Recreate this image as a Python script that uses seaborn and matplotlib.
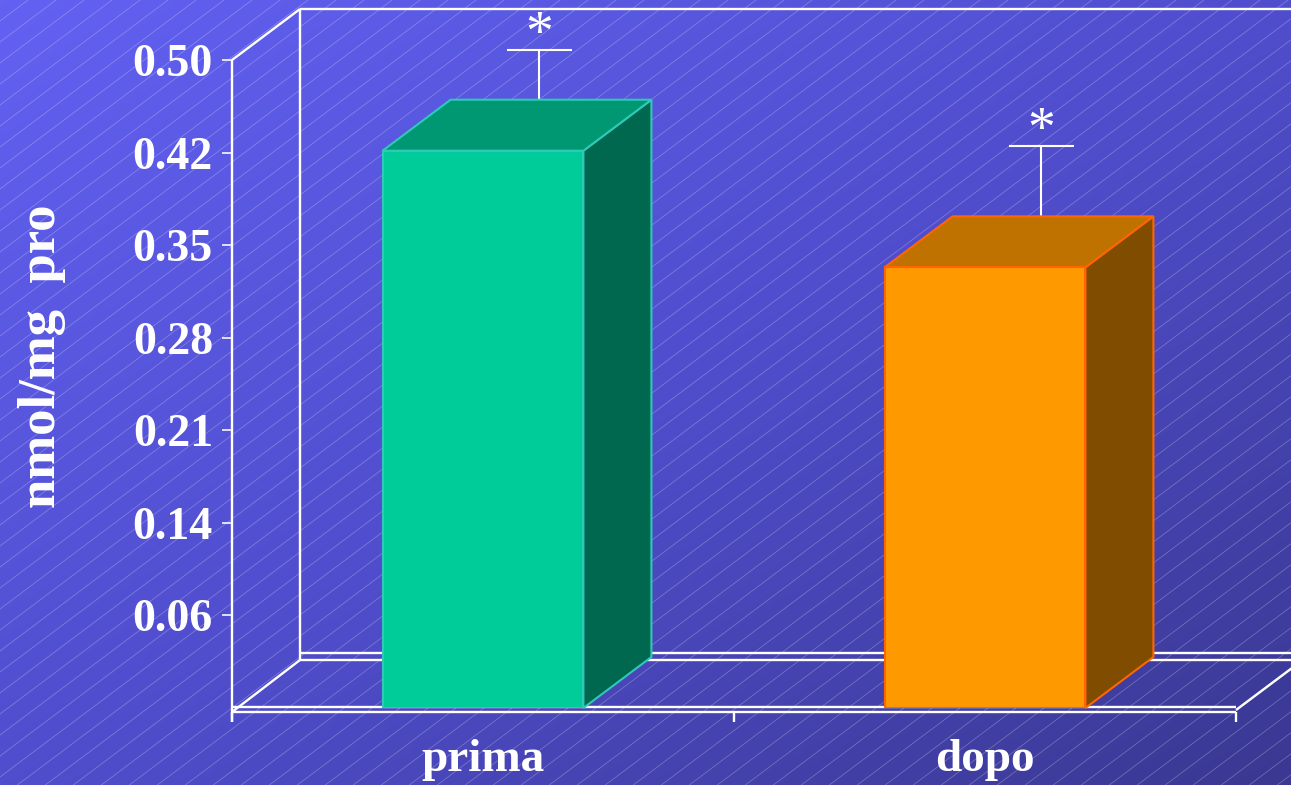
import numpy as np
import matplotlib
matplotlib.use("Agg")
import matplotlib.pyplot as plt
import seaborn as sns
from matplotlib.patches import Polygon
from matplotlib.colors import LinearSegmentedColormap

# ---- data -------------------------------------------------------------
categories = ["prima", "dopo"]
values = [0.430, 0.340]
errors = [0.038, 0.054]
marks = ["*", "*"]
tick_values = [0.5 * k / 7 for k in range(1, 8)]
tick_labels = ["0.06", "0.14", "0.21", "0.28", "0.35", "0.42", "0.50"]
y_label = "nmol/mg  pro"

# ---- styling ----------------------------------------------------------
front_colors = ["#00CC99", "#FF9900"]
top_colors = ["#009872", "#C07200"]
side_colors = ["#00684E", "#804C00"]
edge_colors = ["#30C8B8", "#FF6600"]
LINE = "white"
LW = 1.7

W, H, DPI = 1291, 785, 100
DEPTH_X, DEPTH_Y = 68, 51      # perspective depth, pixels
ERR_X = 56                      # error bar offset from bar centre, pixels

sns.set_theme(style="white")
plt.rcParams["font.family"] = ["Liberation Serif", "DejaVu Serif"]
plt.rcParams["font.weight"] = "bold"

fig = plt.figure(figsize=(W / DPI, H / DPI), dpi=DPI)

# ---- gradient background with fine diagonal hatching -------------------
bg = fig.add_axes([0, 0, 1, 1], zorder=0)
bg.set_xlim(0, W)
bg.set_ylim(H, 0)
bg.axis("off")
yy, xx = np.mgrid[0:H, 0:W]
t = xx / W + yy / H
cmap = LinearSegmentedColormap.from_list(
    "bg", [(98 / 255, 97 / 255, 242 / 255),
           (80 / 255, 78 / 255, 205 / 255),
           (58 / 255, 56 / 255, 145 / 255)])
bg.imshow(t, cmap=cmap, vmin=0, vmax=2, extent=(0, W, H, 0),
          aspect="auto", interpolation="bilinear")
slope, step = 0.75, 28
for x0 in np.arange(-H / slope, W + step, step):
    bg.plot([x0, x0 + H / slope], [H, 0], color="white", lw=0.6, alpha=0.25)

# ---- main axes (front plane) ------------------------------------------
ax_left, ax_bottom_px, ax_w, ax_h = 232, 708, 1004, 648
ax = fig.add_axes([ax_left / W, (H - ax_bottom_px) / H, ax_w / W, ax_h / H],
                  zorder=1)
ax.patch.set_alpha(0)

sns.barplot(x=categories, y=values, hue=categories, palette=front_colors,
            width=0.4, saturation=1, legend=False, ax=ax, zorder=5)
ax.set_xlim(-0.5, 1.5)
ax.set_ylim(0, 0.5)

# pixel -> data unit conversions
px_x = (ax.get_xlim()[1] - ax.get_xlim()[0]) / ax_w
px_y = (ax.get_ylim()[1] - ax.get_ylim()[0]) / ax_h
dx, dy = DEPTH_X * px_x, DEPTH_Y * px_y
x_lo, x_hi = ax.get_xlim()
y_top = ax.get_ylim()[1]

def seg(xs, ys, z=2):
    ax.plot(xs, ys, color=LINE, lw=LW, solid_capstyle="butt",
            clip_on=False, zorder=z)

# back wall and floor frame
seg([x_lo + dx, x_lo + dx], [dy - 3 * px_y, y_top + dy])
seg([x_lo + dx, x_hi + 2 * dx], [y_top + dy, y_top + dy])
seg([x_lo, x_lo + dx], [y_top, y_top + dy])
seg([x_lo + dx, x_hi + 2 * dx], [dy + 4 * px_y, dy + 4 * px_y])
seg([x_lo + dx, x_hi + 2 * dx], [dy - 3 * px_y, dy - 3 * px_y])
seg([x_lo, x_hi], [1 * px_y, 1 * px_y])
seg([x_lo, x_hi], [-4 * px_y, -4 * px_y])
seg([x_lo, x_lo + dx], [-4 * px_y, dy - 3 * px_y])
seg([x_hi, x_hi + 2 * dx], [-2 * px_y, 2 * dy - 2 * px_y])
# front value axis
seg([x_lo, x_lo], [-14 * px_y, y_top], z=3)
for xt in [x_lo, (x_lo + x_hi) / 2, x_hi]:
    seg([xt, xt], [-4 * px_y, -14 * px_y], z=3)

# 3D faces of the bars
bars = [p for p in ax.patches][:len(values)]
for i, p in enumerate(bars):
    x0, w, h = p.get_x(), p.get_width(), p.get_height()
    p.set_edgecolor(edge_colors[i])
    p.set_linewidth(1.5)
    top = Polygon([(x0, h), (x0 + w, h), (x0 + w + dx, h + dy), (x0 + dx, h + dy)],
                  closed=True, fc=top_colors[i], ec=edge_colors[i], lw=1.5,
                  zorder=4, clip_on=False)
    side = Polygon([(x0 + w, 0), (x0 + w + dx, dy), (x0 + w + dx, h + dy), (x0 + w, h)],
                   closed=True, fc=side_colors[i], ec=edge_colors[i], lw=1.5,
                   zorder=4, clip_on=False)
    ax.add_patch(side)
    ax.add_patch(top)

    # error bar on the back plane, with significance mark
    cx = x0 + w / 2 + ERR_X * px_x
    base = values[i] + dy
    tip = values[i] + errors[i] + dy
    ax.vlines(cx, base, tip, color=LINE, lw=1.5, zorder=3, clip_on=False)
    ax.hlines(tip, cx - 32.5 * px_x, cx + 32.5 * px_x, color=LINE, lw=1.5,
              zorder=3, clip_on=False)
    ax.annotate(marks[i], (cx, tip), xytext=(0, 0), textcoords="offset points",
                ha="center", va="baseline", color="white", fontsize=40,
                fontweight="normal", zorder=6, annotation_clip=False)

# ---- ticks and labels -------------------------------------------------
for s in ax.spines.values():
    s.set_visible(False)
ax.set_yticks(tick_values, tick_labels)
ax.tick_params(axis="y", direction="out", length=7.2, width=1.15,
               color="white", labelcolor="white", labelsize=33, pad=6.5,
               left=True)
ax.set_xticks([0, 1], categories)
ax.tick_params(axis="x", length=0, labelcolor="white", labelsize=34, pad=22)
ax.set_xlabel("")
ax.set_ylabel(y_label, fontsize=38, fontweight="bold", color="white", va="center")
ax.yaxis.set_label_coords(-0.189, 0.543)

fig.savefig("out.png", dpi=DPI)
